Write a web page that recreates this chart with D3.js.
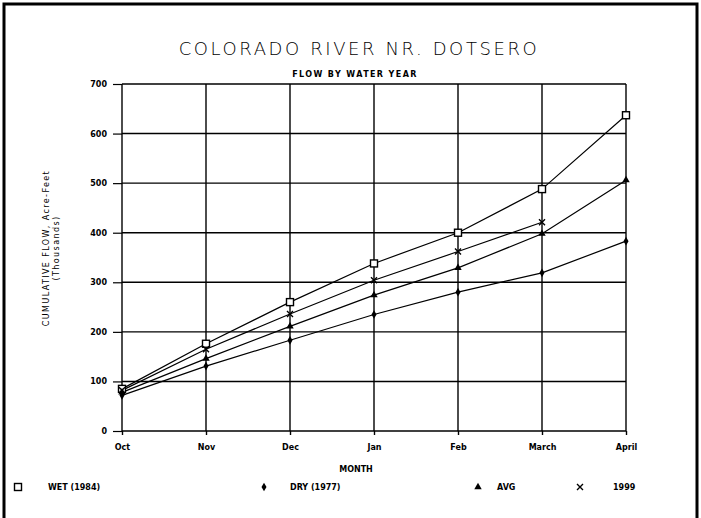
<!DOCTYPE html>
<meta charset="utf-8">
<script src="https://cdn.jsdelivr.net/npm/d3@7"></script>
<style>
body { margin: 0; background: #fff; }
svg text { fill: #000; font-family: "DejaVu Sans", sans-serif; }
.tick text { font-size: 8px; font-weight: bold; }
.grid line { stroke: #000; stroke-width: 1.4; }
.series { fill: none; stroke: #000; stroke-width: 1.2; }
</style>
<body>
<div id="chart"></div>
<script>

// chart data
var months = ["Oct", "Nov", "Dec", "Jan", "Feb", "March", "April"];
var yTicks = [0, 100, 200, 300, 400, 500, 600, 700];
var wet = [85, 176, 260, 338, 400, 488, 637];
var dry = [72, 131, 183, 235, 280, 319, 383];
var avg = [78, 146, 211, 274, 329, 398, 506];
var y1999 = [82, 165, 236, 304, 362, 421];

var seriesNames = ["WET (1984)", "DRY (1977)", "AVG", "1999"];
var seriesShapes = ["square", "diamond", "triangle", "cross"];
var seriesValues = [wet, dry, avg, y1999];

var width = 701, height = 518;
var margin = {top: 84, right: 75, bottom: 87, left: 122};

var svg = d3.select("#chart").append("svg")
    .attr("width", width)
    .attr("height", height);

// outer frame (left, top, right)
svg.append("path")
    .attr("d", "M4,520 V4 H697 V520")
    .attr("fill", "none")
    .attr("stroke", "#000")
    .attr("stroke-width", 3);

var x = d3.scalePoint()
    .domain(months)
    .range([margin.left, width - margin.right]);

var y = d3.scaleLinear()
    .domain([0, 700])
    .range([height - margin.bottom, margin.top]);

// grid lines
var grid = svg.append("g").attr("class", "grid");
grid.selectAll(".h").data(yTicks).enter().append("line")
    .attr("x1", x.range()[0]).attr("x2", x.range()[1])
    .attr("y1", function(d) { return y(d); })
    .attr("y2", function(d) { return y(d); });
grid.selectAll(".v").data(months).enter().append("line")
    .attr("x1", function(d) { return x(d); })
    .attr("x2", function(d) { return x(d); })
    .attr("y1", y(0)).attr("y2", y(700));

// axes
var yAxis = svg.append("g")
    .attr("transform", "translate(" + x.range()[0] + ",0)")
    .call(d3.axisLeft(y).tickValues(yTicks).tickSize(9).tickPadding(6));
yAxis.select(".domain").remove();
yAxis.selectAll(".tick line").attr("stroke-width", 1.2);

var xAxis = svg.append("g")
    .attr("transform", "translate(0," + y(0) + ")")
    .call(d3.axisBottom(x).tickSize(4).tickPadding(9));
xAxis.select(".domain").remove();
xAxis.selectAll(".tick line").attr("stroke-width", 1.4);

// series lines
var line = d3.line()
    .x(function(d, i) { return x(months[i]); })
    .y(function(d) { return y(d); });

svg.selectAll(".series")
    .data(seriesValues)
  .enter().append("path")
    .attr("class", "series")
    .attr("d", line);

// markers
function marker(g, shape, cx, cy) {
  if (shape === "square") {
    g.append("rect").attr("x", cx - 3.5).attr("y", cy - 3.5)
      .attr("width", 7).attr("height", 7)
      .attr("fill", "#fff").attr("stroke", "#000").attr("stroke-width", 1.4);
  } else if (shape === "diamond") {
    g.append("path").attr("d", d3.symbol(d3.symbolDiamond, 22)())
      .attr("transform", "translate(" + cx + "," + cy + ")")
      .attr("fill", "#000");
  } else if (shape === "triangle") {
    g.append("path").attr("d", d3.symbol(d3.symbolTriangle, 24)())
      .attr("transform", "translate(" + cx + "," + cy + ")")
      .attr("fill", "#000");
  } else {
    g.append("path").attr("d", "M-3,-3L3,3M-3,3L3,-3")
      .attr("transform", "translate(" + cx + "," + cy + ")")
      .attr("stroke", "#000").attr("stroke-width", 1.4);
  }
}

var markers = svg.append("g");
seriesValues.forEach(function(vals, s) {
  vals.forEach(function(v, i) {
    marker(markers, seriesShapes[s], x(months[i]), y(v));
  });
});

// titles
svg.append("text")
    .attr("x", 359).attr("y", 55)
    .attr("text-anchor", "middle")
    .style("font-size", "18px")
    .style("font-weight", 300)
    .style("letter-spacing", "2.6px")
    .text("COLORADO RIVER NR. DOTSERO");

svg.append("text")
    .attr("x", 355).attr("y", 77)
    .attr("text-anchor", "middle")
    .style("font-size", "8px")
    .style("font-weight", "bold")
    .style("letter-spacing", "1.4px")
    .text("FLOW BY WATER YEAR");

svg.append("text")
    .attr("x", 356).attr("y", 472)
    .attr("text-anchor", "middle")
    .style("font-size", "8px")
    .style("font-weight", "bold")
    .text("MONTH");

// y axis title
var yTitle = svg.append("text")
    .attr("transform", "translate(49,248) rotate(-90)")
    .attr("text-anchor", "middle")
    .style("font-size", "8px")
    .style("letter-spacing", "1.4px");
yTitle.append("tspan").attr("x", 0).attr("dy", 0).text("CUMULATIVE FLOW, Acre-Feet");
yTitle.append("tspan").attr("x", 0).attr("dy", 10).text("(Thousands)");

// legend
var legendX = [18, 264, 478, 580];
var legendGap = [30, 26, 19, 33];
var legend = svg.append("g");
seriesNames.forEach(function(name, s) {
  marker(legend, seriesShapes[s], legendX[s], 487);
  legend.append("text")
      .attr("x", legendX[s] + legendGap[s])
      .attr("y", 490)
      .style("font-size", "8px")
      .style("font-weight", "bold")
      .text(name);
});

</script>
</body>
